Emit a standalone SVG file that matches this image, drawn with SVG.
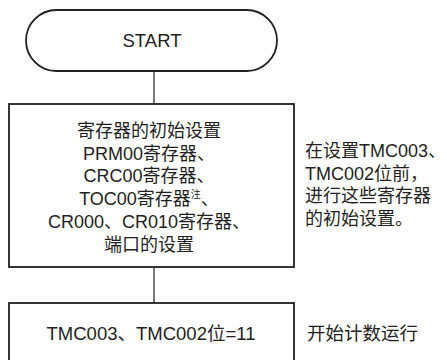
<svg xmlns="http://www.w3.org/2000/svg" width="447" height="360" viewBox="0 0 447 360">
<style>
text{font-family:"Liberation Sans","Noto Sans CJK SC",sans-serif;font-size:18px;fill:#231f20}
.c{text-anchor:middle}
.big{font-size:18.5px}
.shape{fill:#fff;stroke:#231f20;stroke-width:1.8}
.conn{stroke:#231f20;stroke-width:1.2;fill:none}
.sup{font-size:10px}
</style>
<rect width="447" height="360" fill="#fff"/>
<g id="connectors">
<line class="conn" x1="154" y1="71" x2="154" y2="104"/>
<line class="conn" x1="154" y1="267" x2="154" y2="303"/>
</g>
<g id="start">
<rect class="shape" x="26" y="10" width="251" height="61" rx="30.5" ry="30.5"/>
<text class="c big" x="152" y="47">START</text>
</g>
<g id="init">
<rect class="shape" x="9" y="104" width="285" height="163"/>
<text class="c" x="149" y="137">寄存器的初始设置</text>
<text class="c" x="149" y="160">PRM00寄存器、</text>
<text class="c" x="149" y="182">CRC00寄存器、</text>
<text class="c" x="149" y="205">TOC00寄存器<tspan class="sup" dy="-7">注</tspan><tspan dy="7">、</tspan></text>
<text class="c" x="149" y="228">CR000、CR010寄存器、</text>
<text class="c" x="149" y="251">端口的设置</text>
</g>
<g id="note1">
<text x="305" y="157">在设置TMC003、</text>
<text x="305" y="179.5">TMC002位前，</text>
<text x="305" y="202">进行这些寄存器</text>
<text x="305" y="224.5">的初始设置。</text>
</g>
<g id="run">
<rect class="shape" x="9" y="303" width="285" height="70"/>
<text class="c big" x="151" y="340">TMC003、TMC002位=11</text>
</g>
<g id="note2">
<text class="big" x="307" y="340">开始计数运行</text>
</g>
</svg>
